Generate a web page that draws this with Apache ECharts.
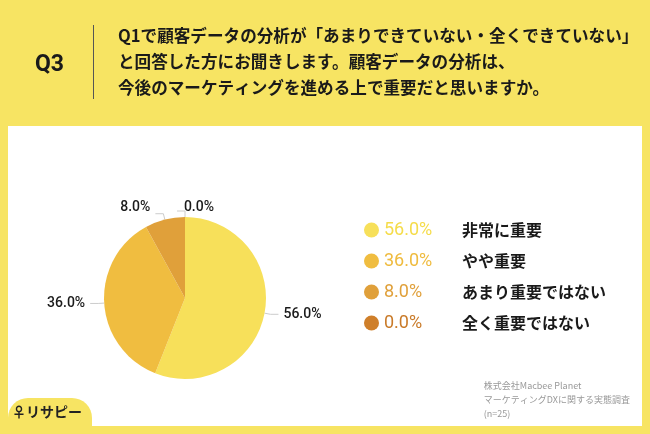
<!DOCTYPE html>
<html lang="ja">
<head>
<meta charset="utf-8">
<style>
  html, body { margin: 0; padding: 0; background: #f7e463; }
  #chart { width: 650px; height: 434px; }
</style>
</head>
<body>
<div id="chart"></div>
<script src="https://cdn.jsdelivr.net/npm/echarts@6/dist/echarts.min.js"></script>
<script>
  var categories = ["非常に重要", "やや重要", "あまり重要ではない", "全く重要ではない"];
  var values = [56.0, 36.0, 8.0, 0.0];
  var colors = ["#f7e05a", "#f0bd40", "#e0a03a", "#cf7f2a"];
  var textColors = ["#f5dc4a", "#efbb3e", "#e0a03a", "#c97a28"];

  var font = '"Noto Sans CJK JP", sans-serif';
  var chart = echarts.init(document.getElementById("chart"));

  var rich = {};
  categories.forEach(function (c, i) {
    rich["p" + i] = { color: textColors[i], fontSize: 18, fontFamily: "Roboto, sans-serif", width: 78 };
  });
  rich.n = { color: "#1a1a1a", fontSize: 16, fontWeight: "bold", fontFamily: font };

  chart.setOption({
    backgroundColor: "#f7e463",
    graphic: [
      { type: "rect", shape: { x: 8, y: 126, width: 634, height: 300 }, style: { fill: "#fff" } },
      { type: "rect", shape: { x: 8, y: 398, width: 84, height: 40, r: [20, 20, 0, 0] }, style: { fill: "#f7e463" } },
      { type: "text", left: 12, top: 405, style: { text: "♀リサピー", fontSize: 14, fontWeight: "bold", fill: "#222", fontFamily: font } },
      { type: "text", left: 35, top: 54, style: { text: "Q3", fontSize: 23, fontWeight: "bold", fill: "#1a1a1a", fontFamily: "Roboto, sans-serif" } },
      { type: "rect", shape: { x: 93, y: 25, width: 1, height: 74 }, style: { fill: "#555" } },
      { type: "text", left: 118, top: 23, style: {
          text: "Q1で顧客データの分析が「あまりできていない・全くできていない」\nと回答した方にお聞きします。顧客データの分析は、\n今後のマーケティングを進める上で重要だと思いますか。",
          fontSize: 16.6, fontWeight: "bold", lineHeight: 26, fill: "#1a1a1a", fontFamily: font } },
      { type: "text", right: 20, top: 379, style: {
          text: "株式会社Macbee Planet\nマーケティングDXに関する実態調査\n(n=25)",
          align: "right", fontSize: 9, lineHeight: 14, fill: "#999", fontFamily: font } }
    ],
    legend: {
      orient: "vertical", left: 359, top: 216, itemGap: 13,
      icon: "circle", itemWidth: 15, itemHeight: 15,
      data: categories,
      formatter: function (name) {
        var i = categories.indexOf(name);
        return "{p" + i + "|" + values[i].toFixed(1) + "%}{n|" + name + "}";
      },
      textStyle: { rich: rich }
    },
    series: [{
      type: "pie", center: [185, 298], radius: 81, startAngle: 90, clockwise: true,
      avoidLabelOverlap: false, minShowLabelAngle: 0,
      labelLayout: function (p) {
        if (p.dataIndex === 3) return { dx: 42, dy: -4, hideOverlap: false };
        if (p.dataIndex === 2) return { dy: -6, hideOverlap: false };
        return { hideOverlap: false };
      },
      data: categories.map(function (c, i) {
        return { name: c, value: values[i], itemStyle: { color: colors[i] } };
      }),
      label: {
        show: true,
        formatter: function (p) { return p.value.toFixed(1) + "%"; },
        color: "#1a1a1a", fontSize: 14, fontFamily: "Roboto, sans-serif", fontWeight: "500"
      },
      labelLine: { length: 6, length2: 8, lineStyle: { color: "#ccc" } },
      emphasis: { disabled: true }
    }]
  });
</script>
</body>
</html>
